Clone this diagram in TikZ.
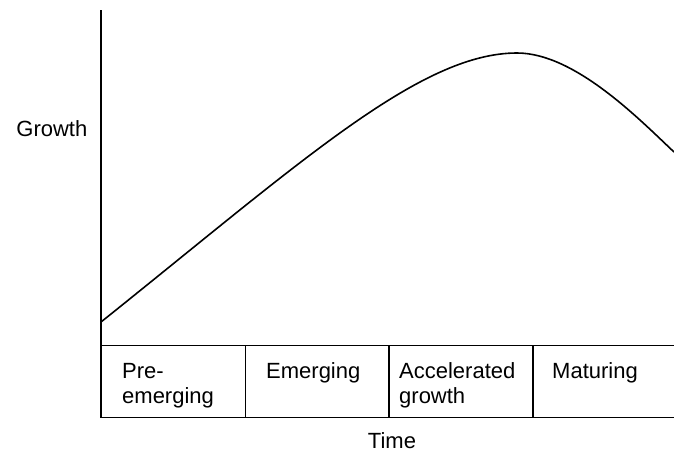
\documentclass[tikz,border=0pt]{standalone}
\usepackage{fontspec}
\setmainfont{Liberation Sans}
\usetikzlibrary{positioning}

\tikzset{
  label text/.style={inner sep=0pt, anchor=base west, font=\fontsize{22}{26}\selectfont},
}

\begin{document}
\begin{tikzpicture}[x=1pt, y=-1pt]
  \useasboundingbox (0, 0) rectangle (674, 453);
  \begin{scope}[line width=1.5pt]
  \draw (101, 10) -- (101, 417.5);
  \draw (101, 345.5) -- (674, 345.5);
  \draw (101, 417.5) -- (674, 417.5);
  \draw (245.5, 345.5) -- (245.5, 417.5);
  \draw (389, 345.5) -- (389, 417.5);
  \draw (533, 345.5) -- (533, 417.5);
  \end{scope}
  \draw[line width=1.6pt] (101, 322) .. controls (301, 162) and (420, 53) .. (517, 53)
    .. controls (575, 53) and (640, 120) .. (674, 152);
  \node[label text] (pre) at (122, 378) {Pre-};
  \node[label text] (preb) at (122, 403) {emerging};
  \node[label text] (emerging) at (266, 378) {Emerging};
  \node[label text] (accel) at (399, 378) {Accelerated};
  \node[label text] (accelb) at (399, 403) {growth};
  \node[label text] (maturing) at (552, 378) {Maturing};
  \node[label text, anchor=base] (time) at (392, 448) {Time};
  \node[label text, anchor=base east] (growth) at (87.5, 136.5) {Growth};
\end{tikzpicture}
\end{document}
